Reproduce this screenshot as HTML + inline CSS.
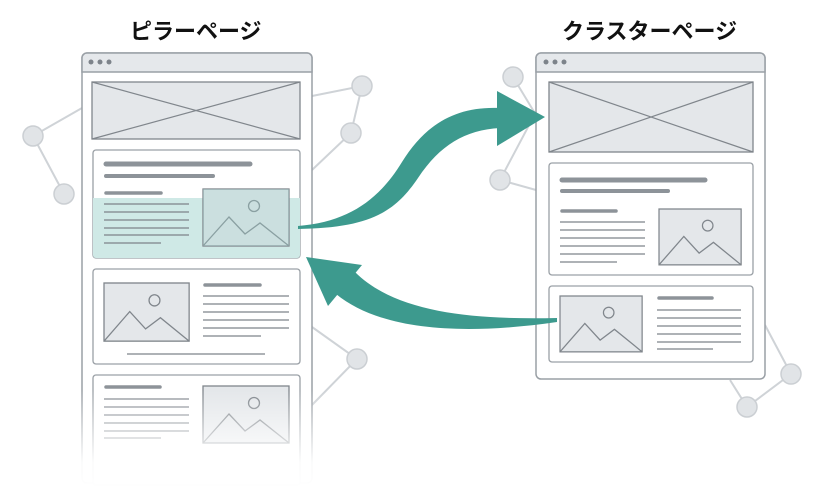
<!DOCTYPE html>
<html><head><meta charset="utf-8"><style>
body{margin:0;width:819px;height:493px;background:#fff;overflow:hidden;font-family:"Liberation Sans","Noto Sans CJK JP",sans-serif}
.t{position:absolute;font-weight:bold;font-size:22px;color:#111;}
</style></head><body>
<div class="t" style="left:130px;top:14px">ピラーページ</div>
<div class="t" style="left:562px;top:14px">クラスターページ</div>
<svg width="819" height="493" style="position:absolute;left:0;top:0">
<defs>
<linearGradient id="fade" x1="0" y1="0" x2="0" y2="1">
<stop offset="0" stop-color="#fff" stop-opacity="0"/><stop offset="0.7" stop-color="#fff" stop-opacity="0.95"/><stop offset="1" stop-color="#fff" stop-opacity="1"/></linearGradient>
<g id="img"><rect x="0" y="0" width="86" height="57" fill="#e4e7ea" stroke="#80868c" stroke-width="1.3"/>
<circle cx="51" cy="17" r="5.5" fill="none" stroke="#80868c" stroke-width="1.3"/>
<polyline points="0,57 26,28 42,45 57,34 86,57" fill="none" stroke="#80868c" stroke-width="1.3"/></g>
</defs>
<g stroke="#cfd3d7" stroke-width="2" fill="none">
<polyline points="82,108 33,136 64,194"/>
<polyline points="312,96 362,86 351,133 312,170"/>
<polyline points="312,327 357,359 312,405"/>
<polyline points="513,77 536,115"/>
<polyline points="536,112 500,180 536,190"/>
<polyline points="765,325 791,374 747,407 730,380"/>
</g>
<g fill="#e1e4e7" stroke="#cbcfd3" stroke-width="1.5">
<circle cx="33" cy="136" r="10"/><circle cx="64" cy="194" r="10"/>
<circle cx="362" cy="86" r="10"/><circle cx="351" cy="133" r="10"/>
<circle cx="357" cy="359" r="10"/><circle cx="513" cy="77" r="10"/>
<circle cx="500" cy="180" r="10"/><circle cx="791" cy="374" r="10"/><circle cx="747" cy="407" r="10"/>
</g>
<!-- left browser -->
<rect x="82" y="53" width="230" height="430" rx="5" fill="#fff" stroke="#9aa0a6" stroke-width="1.5"/>
<path d="M82,72 V58 a5,5 0 0 1 5,-5 H307 a5,5 0 0 1 5,5 V72 Z" fill="#e5e8eb" stroke="#9aa0a6" stroke-width="1.5"/>
<g fill="#7d838a"><circle cx="91" cy="62" r="2.5"/><circle cx="100" cy="62" r="2.5"/><circle cx="109" cy="62" r="2.5"/></g>
<rect x="92" y="82" width="208" height="57" fill="#e4e7ea" stroke="#80868c" stroke-width="1.3"/>
<path d="M92,82 L300,139 M300,82 L92,139" stroke="#80868c" stroke-width="1.2"/>
<rect x="93" y="150" width="207" height="108" rx="3" fill="#fff" stroke="#9aa0a6" stroke-width="1.3"/>
<path d="M93,198 H300 V255 a3,3 0 0 1 -3,3 H96 a3,3 0 0 1 -3,-3 Z" fill="#cfe9e6"/>
<g stroke="#8d9399" stroke-linecap="round"><line x1="106" y1="164" x2="250" y2="164" stroke-width="5"/><line x1="106" y1="176" x2="213" y2="176" stroke-width="4"/><line x1="106" y1="193" x2="161" y2="193" stroke-width="3.5"/></g>
<g stroke="#7d838a" stroke-width="1.3"><line x1="104" y1="204" x2="189" y2="204"/><line x1="104" y1="212" x2="189" y2="212"/><line x1="104" y1="220" x2="189" y2="220"/><line x1="104" y1="228" x2="189" y2="228"/><line x1="104" y1="235" x2="189" y2="235"/><line x1="104" y1="243" x2="161" y2="243"/></g>
<g transform="translate(203,189)"><use href="#img"/></g>
<rect x="203" y="189" width="86" height="57" fill="#9fd0ca" opacity="0.35"/>
<rect x="93" y="269" width="207" height="95" rx="3" fill="#fff" stroke="#9aa0a6" stroke-width="1.3"/>
<g transform="translate(104,283) scale(0.99,1.02)"><use href="#img"/></g>
<line x1="205" y1="285" x2="260" y2="285" stroke="#8d9399" stroke-width="3.5" stroke-linecap="round"/>
<g stroke="#7d838a" stroke-width="1.3"><line x1="203" y1="296" x2="289" y2="296"/><line x1="203" y1="304" x2="289" y2="304"/><line x1="203" y1="312" x2="289" y2="312"/><line x1="203" y1="320" x2="289" y2="320"/><line x1="203" y1="328" x2="289" y2="328"/><line x1="203" y1="336" x2="261" y2="336"/><line x1="127" y1="354" x2="265" y2="354"/></g>
<rect x="93" y="375" width="207" height="110" rx="3" fill="#fff" stroke="#9aa0a6" stroke-width="1.3"/>
<line x1="106" y1="387" x2="160" y2="387" stroke="#8d9399" stroke-width="3.5" stroke-linecap="round"/>
<g stroke="#7d838a" stroke-width="1.3"><line x1="104" y1="399" x2="189" y2="399"/><line x1="104" y1="407" x2="189" y2="407"/><line x1="104" y1="415" x2="189" y2="415"/><line x1="104" y1="423" x2="189" y2="423"/><line x1="104" y1="431" x2="189" y2="431"/><line x1="104" y1="438" x2="161" y2="438"/></g>
<g transform="translate(203,386)"><use href="#img"/></g>
<rect x="70" y="390" width="255" height="103" fill="url(#fade)"/>
<!-- right browser -->
<rect x="536" y="53" width="229" height="326" rx="5" fill="#fff" stroke="#9aa0a6" stroke-width="1.5"/>
<path d="M536,72 V58 a5,5 0 0 1 5,-5 H760 a5,5 0 0 1 5,5 V72 Z" fill="#e5e8eb" stroke="#9aa0a6" stroke-width="1.5"/>
<g fill="#7d838a"><circle cx="546" cy="62" r="2.5"/><circle cx="555" cy="62" r="2.5"/><circle cx="564" cy="62" r="2.5"/></g>
<rect x="549" y="82" width="204" height="70" fill="#e4e7ea" stroke="#80868c" stroke-width="1.3"/>
<path d="M549,82 L753,152 M753,82 L549,152" stroke="#80868c" stroke-width="1.2"/>
<rect x="549" y="163" width="204" height="112" rx="3" fill="#fff" stroke="#9aa0a6" stroke-width="1.3"/>
<g stroke="#8d9399" stroke-linecap="round"><line x1="562" y1="180" x2="705" y2="180" stroke-width="5"/><line x1="562" y1="191" x2="668" y2="191" stroke-width="4"/><line x1="562" y1="211" x2="616" y2="211" stroke-width="3.5"/></g>
<g stroke="#7d838a" stroke-width="1.3"><line x1="560" y1="222" x2="645" y2="222"/><line x1="560" y1="230" x2="645" y2="230"/><line x1="560" y1="238" x2="645" y2="238"/><line x1="560" y1="246" x2="645" y2="246"/><line x1="560" y1="254" x2="645" y2="254"/><line x1="560" y1="262" x2="617" y2="262"/></g>
<g transform="translate(659,209) scale(0.955,0.98)"><use href="#img"/></g>
<rect x="549" y="286" width="204" height="76" rx="3" fill="#fff" stroke="#9aa0a6" stroke-width="1.3"/>
<g transform="translate(560,296) scale(0.955,0.98)"><use href="#img"/></g>
<line x1="659" y1="298" x2="712" y2="298" stroke="#8d9399" stroke-width="3.5" stroke-linecap="round"/>
<g stroke="#7d838a" stroke-width="1.3"><line x1="657" y1="310" x2="741" y2="310"/><line x1="657" y1="318" x2="741" y2="318"/><line x1="657" y1="326" x2="741" y2="326"/><line x1="657" y1="334" x2="741" y2="334"/><line x1="657" y1="342" x2="741" y2="342"/><line x1="657" y1="349" x2="713" y2="349"/></g>
<!-- arrows -->
<g fill="#3d9a8e">
<path d="M298,229 C370,228 395,212 418,178 C440,145 465,130 500,128 L500,108 C455,106 425,125 402,162 C380,198 350,222 298,226 Z"/>
<polygon points="497,91 545,117 497,146"/>
<path d="M355,272 C395,312 470,320 557,318 L557,322 C460,336 380,330 336,294 Z"/>
<polygon points="306,257 362,265 328,306"/>
</g>
</svg>
</body></html>
